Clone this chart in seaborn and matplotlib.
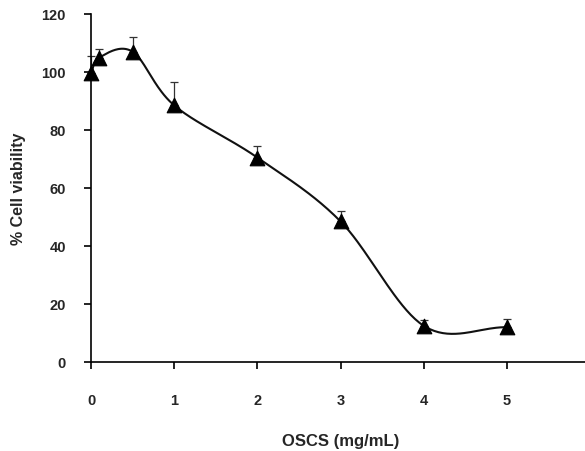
import numpy as np
import pandas as pd
import matplotlib
matplotlib.use('Agg')
import matplotlib.pyplot as plt
import seaborn as sns

# Values
conc = [0, 0.1, 0.5, 1, 2, 3, 4, 5]
viability = [99.5, 105, 107, 88.5, 70.5, 48.5, 12.5, 12]
err_up = [6, 3, 5, 8, 4, 3.5, 2, 3]
x_ticks = [0, 1, 2, 3, 4, 5, 6]
y_ticks = [0, 20, 40, 60, 80, 100, 120]


def smooth_curve(x, y, n=40):
    # Catmull-Rom style smoothing, like a spreadsheet "smoothed line"
    x = np.asarray(x, float)
    y = np.asarray(y, float)
    px = np.concatenate([[2 * x[0] - x[1]], x, [2 * x[-1] - x[-2]]])
    py = np.concatenate([[2 * y[0] - y[1]], y, [2 * y[-1] - y[-2]]])
    xs, ys = [], []
    for i in range(1, len(px) - 2):
        p0x, p1x, p2x, p3x = px[i - 1:i + 3]
        p0y, p1y, p2y, p3y = py[i - 1:i + 3]
        c1x = p1x + (p2x - p0x) / 6
        c1y = p1y + (p2y - p0y) / 6
        c2x = p2x - (p3x - p1x) / 6
        c2y = p2y - (p3y - p1y) / 6
        t = np.linspace(0, 1, n)
        bx = (1 - t) ** 3 * p1x + 3 * (1 - t) ** 2 * t * c1x + 3 * (1 - t) * t ** 2 * c2x + t ** 3 * p2x
        by = (1 - t) ** 3 * p1y + 3 * (1 - t) ** 2 * t * c1y + 3 * (1 - t) * t ** 2 * c2y + t ** 3 * p2y
        xs.extend(bx)
        ys.extend(by)
    return np.array(xs), np.array(ys)


df = pd.DataFrame({'conc': conc, 'viability': viability, 'err': err_up})
sx, sy = smooth_curve(conc, viability)
curve = pd.DataFrame({'conc': sx, 'viability': sy})

sns.set_style('white')
plt.rcParams['font.family'] = ['Liberation Sans', 'DejaVu Sans']

fig = plt.figure(figsize=(5.85, 4.52), dpi=100)
ax = fig.add_axes([91 / 585, 89 / 452, 499 / 585, 348 / 452])

ax.errorbar(df['conc'], df['viability'], yerr=[np.zeros(len(df)), df['err']],
            fmt='none', ecolor='#333333', elinewidth=0.9, capsize=3, capthick=0.9,
            clip_on=False, zorder=2)
sns.lineplot(data=curve, x='conc', y='viability', color='#111111', linewidth=1.5,
             sort=False, ax=ax, zorder=3)
sns.scatterplot(data=df, x='conc', y='viability', marker='^', s=110, color='black',
                edgecolor='black', ax=ax, zorder=4, clip_on=False)

ax.set_xlim(0, 6)
ax.set_ylim(0, 120)
ax.set_xticks(x_ticks)
ax.set_yticks(y_ticks)
ax.set_xticklabels([str(t) for t in x_ticks], fontweight='bold', fontsize=10.5)
ax.set_yticklabels([str(t) for t in y_ticks], fontweight='bold', fontsize=10.5)
ax.tick_params(axis='x', direction='out', length=5, width=1.2, pad=17, color='black', bottom=True)
ax.tick_params(axis='y', direction='out', length=5, width=1.2, pad=13, color='black', left=True)
ax.set_xlabel('OSCS (mg/mL)', fontweight='bold', fontsize=12, labelpad=19)
ax.set_ylabel('% Cell viability', fontweight='bold', fontsize=11.5, labelpad=11)

for side in ['top', 'right']:
    ax.spines[side].set_visible(False)
for side in ['left', 'bottom']:
    ax.spines[side].set_color('black')
    ax.spines[side].set_linewidth(1.2)

fig.savefig('out.png', dpi=100)
